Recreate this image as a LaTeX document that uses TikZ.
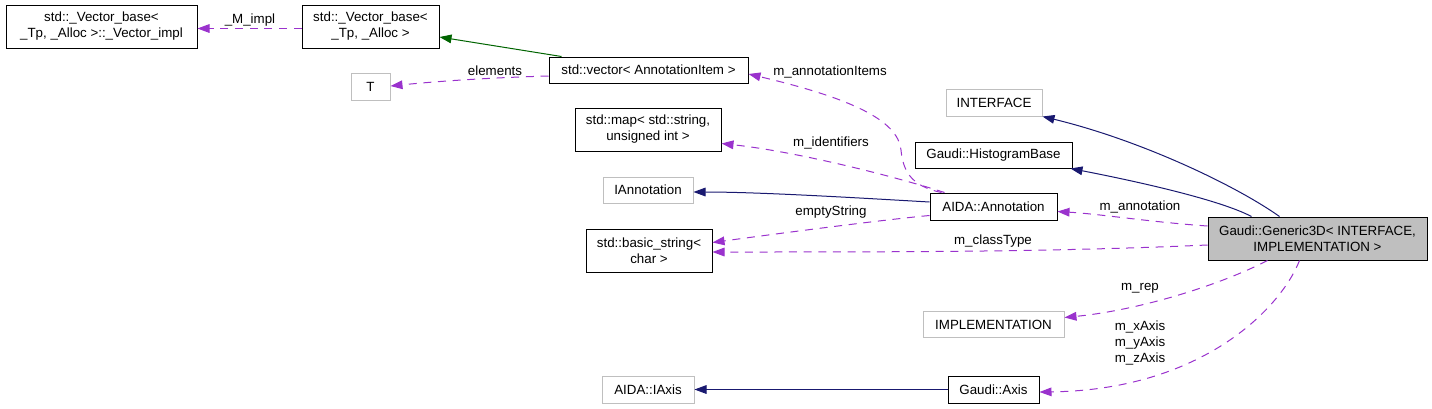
\documentclass[tikz,border=0pt]{standalone}
\usepackage{fontspec}
\setmainfont{Liberation Sans}
\usetikzlibrary{arrows.meta,calc}
\definecolor{depc}{HTML}{9A32CD}
\definecolor{inhc}{HTML}{191970}
\definecolor{pubc}{HTML}{006400}
\definecolor{gbd}{HTML}{BFBFBF}
\begin{document}
\begin{tikzpicture}[x=0.75pt,y=-0.75pt,
  font=\fontsize{10}{12}\selectfont,
  box/.style={draw=black,line width=0.75pt,fill=white,inner sep=0pt,align=center},
  gbox/.style={box,draw=gbd},
  lbl/.style={inner sep=0pt,align=center},
  tip/.style={-{Triangle[length=9pt,width=6.5pt]}},
  depl/.style={draw=depc,line width=0.75pt,dash pattern=on 6pt off 5pt,tip},
  inhl/.style={draw=inhc,line width=0.75pt,tip},
  publ/.style={draw=pubc,line width=0.75pt,tip}]
\useasboundingbox (0,0) rectangle (1432,408);
% nodes
\node[box,minimum width=143.25pt,minimum height=32.25pt] (A) at (101.5,26.5) {std::\_Vector\_base<\\\_Tp, \_Alloc >::\_Vector\_impl};
\node[box,minimum width=102.75pt,minimum height=32.25pt] (B) at (370.5,26.5) {std::\_Vector\_base<\\\_Tp, \_Alloc >};
\node[gbox,minimum width=29.25pt,minimum height=20.25pt] (T) at (370.5,86.5) {T};
\node[box,minimum width=149.25pt,minimum height=19.5pt] (vec) at (648.5,70) {std::vector< AnnotationItem >};
\node[box,minimum width=109.5pt,minimum height=32.25pt] (map) at (648,129.5) {std::map< std::string,\\unsigned int >};
\node[gbox,minimum width=67.5pt,minimum height=19.5pt] (iann) at (648,190) {IAnnotation};
\node[box,minimum width=94.5pt,minimum height=32.25pt] (bstr) at (649,250.5) {std::basic\_string<\\char >};
\node[gbox,minimum width=72pt,minimum height=20.25pt] (iface) at (994,102.5) {INTERFACE};
\node[box,minimum width=117.75pt,minimum height=19.5pt] (hb) at (993.5,155) {Gaudi::HistogramBase};
\node[box,minimum width=95.25pt,minimum height=20.25pt] (ann) at (993.5,206.5) {AIDA::Annotation};
\node[box,fill=gbd,minimum width=164.25pt,minimum height=32.25pt] (gen) at (1317.5,238.5) {Gaudi::Generic3D< INTERFACE,\\IMPLEMENTATION >};
\node[gbox,minimum width=105.75pt,minimum height=19.5pt] (impl) at (993.5,324.5) {IMPLEMENTATION};
\node[gbox,minimum width=69pt,minimum height=20.25pt] (iaxis) at (648,389.5) {AIDA::IAxis};
\node[box,minimum width=68.25pt,minimum height=20.25pt] (axis) at (993.5,389.5) {Gaudi::Axis};
% edges
\draw[depl] ($(B.west)+(0,2)$) -- ($(A.east)+(0,2)$);
\node[lbl] (lmimpl) at (250,20) {\_M\_impl};
\draw[publ] ($(vec.north west)+(13,0)$) -- ($(B.east)+(0,10.5)$);
\draw[depl] ($(vec.west)+(0,6)$) .. controls (480,78) and (430,82) .. ($(T.east)+(0,-0.5)$);
\node[lbl] (lelem) at (495,71) {elements};
\draw[depl] ($(ann.north west)+(12,0)$) .. controls (910,186) and (903,170) .. (901,150)
  .. controls (898,120) and (850,98) .. ($(vec.east)+(0,4)$);
\node[lbl] (lai) at (830,72) {m\_annotationItems};
\draw[depl] ($(ann.north west)+(15,0)$) .. controls (900,178) and (800,152) .. ($(map.east)+(0,14)$);
\node[lbl] (lid) at (831,143) {m\_identifiers};
\draw[inhl] ($(ann.west)+(0,-4.5)$) .. controls (860,198) and (760,192) .. ($(iann.east)+(0,2)$);
\draw[depl] ($(ann.south west)+(0,-5)$) .. controls (880,220) and (760,236) .. ($(bstr.east)+(0,-8)$);
\node[lbl] (lempty) at (831,212) {emptyString};
\draw[depl] ($(gen.west)+(0,6.5)$) .. controls (1050,252) and (900,252) .. ($(bstr.east)+(0,1.5)$);
\node[lbl] (lct) at (993,241) {m\_classType};
\draw[depl] ($(gen.west)+(0,-12.5)$) .. controls (1150,222) and (1100,214) .. ($(ann.east)+(0,5)$);
\node[lbl] (lann) at (1140,207) {m\_annotation};
\draw[inhl] ($(gen.north west)+(72,0)$) .. controls (1235,185) and (1140,140) .. (iface.south east);
\draw[inhl] ($(gen.north west)+(44,0)$) .. controls (1220,200) and (1140,182) .. ($(hb.south east)+(-2,0)$);
\draw[depl] ($(gen.south west)+(60,0)$) .. controls (1220,285) and (1140,310) .. ($(impl.east)+(0,-7)$);
\node[lbl] (lrep) at (1140,288) {m\_rep};
\draw[depl] ($(gen.south west)+(92,0)$) .. controls (1280,310) and (1200,390) .. ($(axis.east)+(0,2.5)$);
\node[lbl] (laxes) at (1140,342.5) {m\_xAxis\\m\_yAxis\\m\_zAxis};
\draw[inhl] (axis.west) -- (iaxis.east);
\end{tikzpicture}
\end{document}
